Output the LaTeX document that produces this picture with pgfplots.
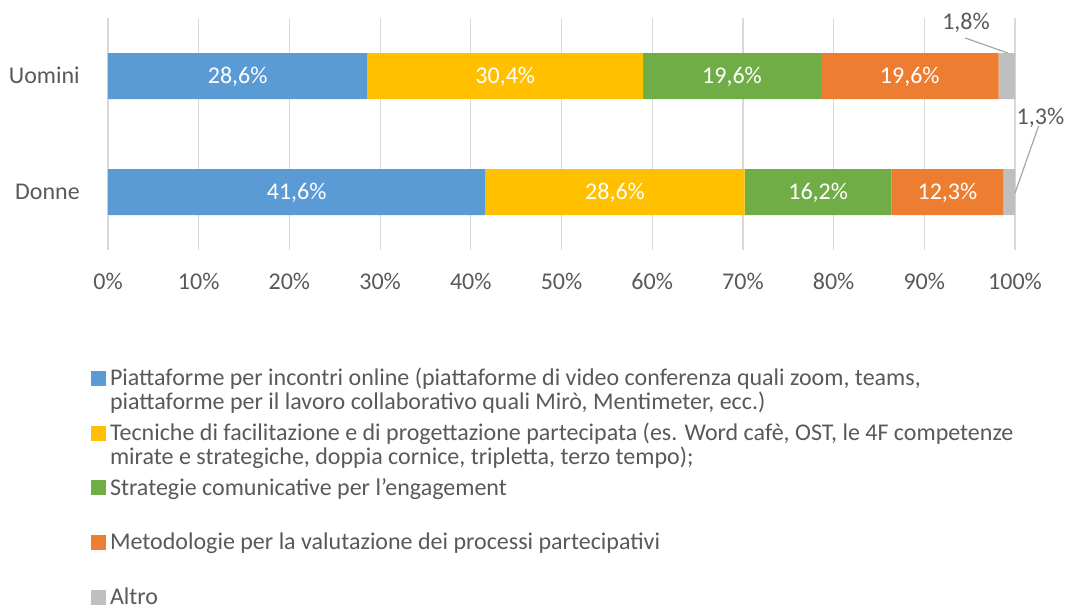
\documentclass[border=0pt]{standalone}
\usepackage{pgfplots}
\usepackage{pgfplotstable}
\pgfplotsset{compat=1.18}
\usepackage{fontspec}
\setmainfont{Carlito}
\definecolor{cblue}{HTML}{5B9BD5}
\definecolor{cgold}{HTML}{FFC000}
\definecolor{cgreen}{HTML}{70AD47}
\definecolor{corange}{HTML}{ED7D31}
\definecolor{cgray}{HTML}{BFBFBF}
\definecolor{tgray}{HTML}{595959}
\definecolor{gridc}{HTML}{D9D9D9}
\newcommand\lent[1]{\parbox[t][41pt][t]{720pt}{\raggedright\baselineskip=18pt\rule{0pt}{14pt}#1}}
\newcommand\ff{\fontsize{18}{18}\selectfont}
\pgfplotstableread{
y  a    b    c    d    e
0  41.6 28.6 16.2 12.3 1.3
1  28.6 30.4 19.6 19.6 1.8
}\data
\begin{document}
\ff
\begin{tikzpicture}
\path[use as bounding box] (-81pt,-268.5pt) rectangle (718.5pt,187.5pt);
\begin{axis}[
  at={(0,0)}, anchor=south west,
  scale only axis, width=680.25pt, height=174pt,
  xbar stacked, bar width=34.5pt,
  xmin=0, xmax=100, ymin=-0.5, ymax=1.5,
  ytick={0,1}, yticklabels={Donne,Uomini},
  xtick={0,10,...,100},
  xticklabel={\pgfmathprintnumber[assume math mode=true]{\tick}\%},
  xmajorgrids, grid style={draw=gridc, line width=0.9pt},
  axis line style={draw=none},
  tick style={draw=none},
  major tick length=0pt,
  tick label style={text=tgray, font=\ff},
  xticklabel style={anchor=base, inner sep=0pt, yshift=-29.6pt},
  yticklabel style={anchor=base east, inner sep=0pt, xshift=-21pt, yshift=-5.25pt},
  clip=false,
  lbl/.style={visualization depends on=\thisrow{#1} \as \rawx,
    nodes near coords={\pgfmathprintnumber[fixed,fixed zerofill,precision=1,use comma,assume math mode=true]{\rawx}\%},
    every node near coord/.style={text=white, anchor=base, inner sep=0pt, font=\ff, yshift=-5.6pt}},
  lg/.style={legend image code/.code={\fill[##1] (0pt,0pt) rectangle (11.25pt,11.25pt);}},
  legend style={at={(axis description cs:-0.0187,-0.505)}, anchor=north west, draw=none, fill=none,
    inner sep=0pt, outer sep=0pt, row sep=0pt, column sep=3pt,
    nodes={inner sep=0pt, text depth=}, cells={anchor=base west}, text=tgray, font=\ff},
]
\addplot+[fill=cblue, draw=none, lbl=a, lg] table[x=a, y=y] {\data};
\addlegendentry{\lent{Piattaforme per incontri online (piattaforme di video conferenza quali zoom, teams,\\piattaforme per il lavoro collaborativo quali Mirò, Mentimeter, ecc.)}}
\addplot+[fill=cgold, draw=none, lbl=b, lg] table[x=b, y=y] {\data};
\addlegendentry{\lent{Tecniche di facilitazione e di progettazione partecipata (es. Word cafè, OST, le 4F competenze\\mirate e strategiche, doppia cornice, tripletta, terzo tempo);}}
\addplot+[fill=cgreen, draw=none, lbl=c, lg] table[x=c, y=y] {\data};
\addlegendentry{\lent{Strategie comunicative per l’engagement}}
\addplot+[fill=corange, draw=none, lbl=d, lg] table[x=d, y=y] {\data};
\addlegendentry{\lent{Metodologie per la valutazione dei processi partecipativi}}
\addplot+[fill=cgray, draw=none, lg] table[x=e, y=y] {\data};
\addlegendentry{\lent{Altro}}
\draw[black!35, line width=0.9pt] (axis cs:94.5,1.328) -- (axis cs:99.2,1.198);
\node[text=tgray, font=\ff] at (axis cs:94.6,1.46) {1,8\%};
\draw[black!35, line width=0.9pt] (axis cs:102.6,0.569) -- (axis cs:100,-0.009);
\node[text=tgray, font=\ff] at (axis cs:102.8,0.64) {1,3\%};
\end{axis}
\end{tikzpicture}
\end{document}
